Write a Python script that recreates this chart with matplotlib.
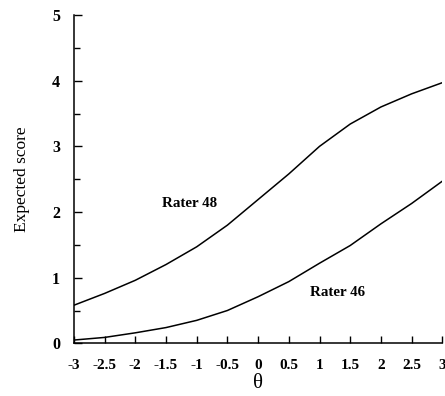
import matplotlib
matplotlib.use("Agg")
import matplotlib.pyplot as plt
from matplotlib.ticker import MultipleLocator

theta = [-3, -2.5, -2, -1.5, -1, -0.5, 0, 0.5, 1, 1.5, 2, 2.5, 3]
rater48 = [0.58, 0.76, 0.96, 1.20, 1.47, 1.80, 2.19, 2.58, 3.00, 3.34, 3.60, 3.80, 3.97]
rater46 = [0.05, 0.09, 0.16, 0.24, 0.35, 0.50, 0.71, 0.94, 1.22, 1.49, 1.82, 2.13, 2.47]
xticks = [-3, -2.5, -2, -1.5, -1, -0.5, 0, 0.5, 1, 1.5, 2, 2.5, 3]
xticklabels = ["-3", "-2.5", "-2", "-1.5", "-1", "-0.5", "0", "0.5", "1", "1.5", "2", "2.5", "3"]
yticks = [0, 1, 2, 3, 4, 5]

plt.rcParams['font.family'] = ['Liberation Serif', 'DejaVu Serif']

fig = plt.figure(figsize=(4.45, 3.96), dpi=100)
ax = fig.add_axes([0.166, 0.133, 0.828, 0.829])

ax.plot(theta, rater48, color='black', lw=1.1)
ax.plot(theta, rater46, color='black', lw=1.1)

ax.set_xlim(-3, 3)
ax.set_ylim(0, 5)
ax.set_xticks(xticks)
ax.set_xticklabels(xticklabels, fontsize=11, fontweight='bold')
ax.set_yticks(yticks)
ax.set_yticklabels([str(v) for v in yticks], fontsize=11.5, fontweight='bold')
ax.yaxis.set_minor_locator(MultipleLocator(0.5))

for s in ['top', 'right']:
    ax.spines[s].set_visible(False)
for s in ['left', 'bottom']:
    ax.spines[s].set_linewidth(1.1)

ax.tick_params(axis='x', which='major', direction='in', length=5, width=1, pad=11)
ax.tick_params(axis='y', which='major', direction='in', length=6, width=1, pad=10)
ax.tick_params(axis='y', which='minor', direction='in', length=4, width=1)

ax.set_xlabel('θ', fontsize=15, labelpad=2)
ax.set_ylabel('Expected score', fontsize=12.5, labelpad=16)

ax.text(-1.11, 2.13, 'Rater 48', fontsize=10.8, fontweight='bold', ha='center', va='center')
ax.text(1.30, 0.78, 'Rater 46', fontsize=10.8, fontweight='bold', ha='center', va='center')

fig.savefig('out.png', dpi=100)
